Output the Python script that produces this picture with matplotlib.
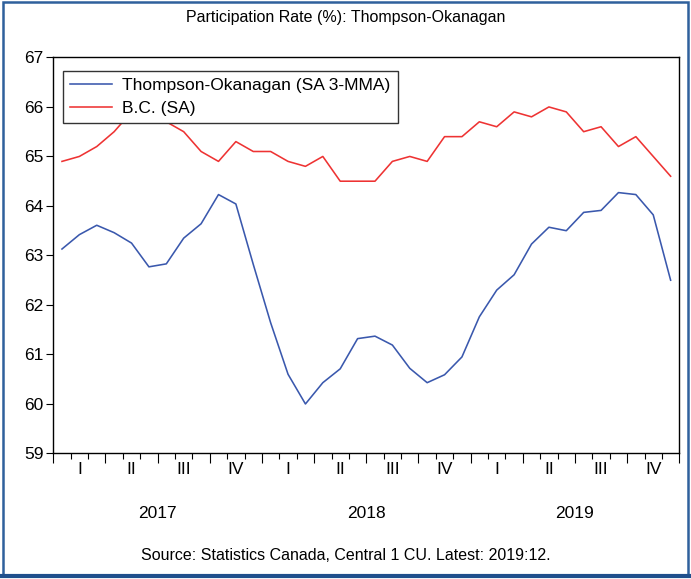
import matplotlib
matplotlib.use("Agg")
import matplotlib.pyplot as plt
import numpy as np
from matplotlib.patches import Rectangle
from matplotlib.lines import Line2D

plt.rcParams['font.family'] = ['Liberation Sans', 'DejaVu Sans']

# monthly data, 2017:01 - 2019:12
months = np.arange(36)
thompson = [63.13, 63.42, 63.61, 63.46, 63.25, 62.77, 62.83, 63.35, 63.64, 64.23, 64.04, 62.82,
            61.64, 60.60, 60.00, 60.43, 60.71, 61.32, 61.37, 61.19, 60.72, 60.43, 60.59, 60.95,
            61.76, 62.30, 62.61, 63.23, 63.57, 63.50, 63.87, 63.91, 64.27, 64.23, 63.82, 62.50]
bc = [64.9, 65.0, 65.2, 65.5, 65.9, 65.9, 65.7, 65.5, 65.1, 64.9, 65.3, 65.1,
      65.1, 64.9, 64.8, 65.0, 64.5, 64.5, 64.5, 64.9, 65.0, 64.9, 65.4, 65.4,
      65.7, 65.6, 65.9, 65.8, 66.0, 65.9, 65.5, 65.6, 65.2, 65.4, 65.0, 64.6]
quarters = ['I', 'II', 'III', 'IV']
years = ['2017', '2018', '2019']
yticks = [59, 60, 61, 62, 63, 64, 65, 66, 67]

fig = plt.figure(figsize=(6.91, 5.79), dpi=100)
ax = fig.add_axes([0.0771, 0.2168, 0.906, 0.684])

x = months + 0.5
ax.plot(x, thompson, color='#3a58ad', lw=1.15, label='Thompson-Okanagan (SA 3-MMA)')
ax.plot(x, bc, color='#ee3333', lw=1.15, label='B.C. (SA)')

ax.set_xlim(0, 36)
ax.set_ylim(59, 67)
ax.set_yticks(yticks)
ax.set_yticklabels([str(v) for v in yticks], fontsize=12.5)
ax.tick_params(axis='y', direction='out', length=5, width=0.8, pad=2)

# month ticks (short) and quarter ticks (long)
ax.set_xticks(np.arange(0, 37, 3))
ax.set_xticklabels([])
ax.set_xticks(np.arange(0, 37, 1), minor=True)
ax.tick_params(axis='x', which='major', direction='out', length=7, width=0.8)
ax.tick_params(axis='x', which='minor', direction='out', length=4, width=0.8)

for s in ax.spines.values():
    s.set_linewidth(1.0)
    s.set_color('black')

# quarter and year labels
for y_i in range(len(years)):
    for q_i, q in enumerate(quarters):
        pos = y_i * 12 + q_i * 3 + 1.5
        ax.text(pos, -0.04, q, transform=ax.get_xaxis_transform(),
                ha='center', va='center', fontsize=12.5)
    ax.text(y_i * 12 + 6, -0.152, years[y_i], transform=ax.get_xaxis_transform(),
            ha='center', va='center', fontsize=12.5)

leg = ax.legend(loc='upper left', bbox_to_anchor=(0.016, 0.966), fontsize=12.5,
                frameon=True, fancybox=False, framealpha=1, borderpad=0.4, labelspacing=0.45,
                handlelength=2.4, handletextpad=0.6, borderaxespad=0)
leg.get_frame().set_edgecolor('#333333')
leg.get_frame().set_linewidth(1.0)

fig.text(0.5, 0.969, 'Participation Rate (%): Thompson-Okanagan', ha='center', va='center',
         fontsize=11.5)
fig.text(0.5, 0.041, 'Source: Statistics Canada, Central 1 CU. Latest: 2019:12.',
         ha='center', va='center', fontsize=11.5)

# outer blue frame
fig.patches.append(Rectangle((0.004, 0.006), 0.992, 0.991, transform=fig.transFigure,
                             fill=False, edgecolor='#2f609c', lw=1.8))
fig.lines.append(Line2D([0.003, 0.997], [0.006, 0.006], transform=fig.transFigure,
                        color='#1f4f8c', lw=3.0))

fig.savefig('out.png', dpi=100)
